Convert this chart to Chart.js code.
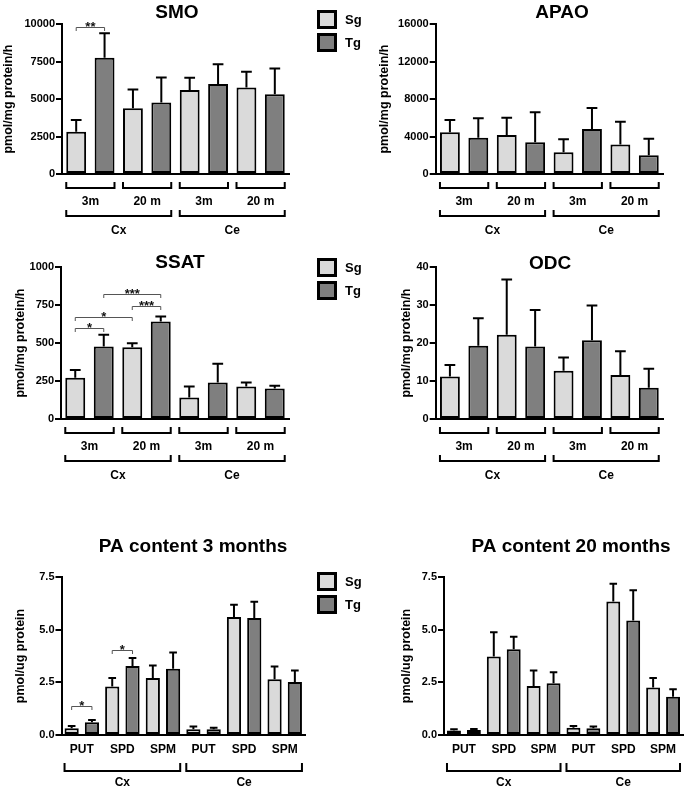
<!DOCTYPE html>
<html><head><meta charset="utf-8">
<script src="https://cdn.jsdelivr.net/npm/chart.js@4.4.1/dist/chart.umd.min.js"></script>
<style>
html,body{margin:0;padding:0;background:#fff;}
#wrap{position:relative;width:687px;height:793px;overflow:hidden;font-family:"Liberation Sans",Arial,sans-serif;}
#wrap canvas{position:absolute;left:0;top:0;}
.lg{position:absolute;left:317px;font-weight:bold;font-size:13px;color:#000;}
.lg .row{position:relative;height:23px;}
.lg .box{position:absolute;left:0;top:0;width:14px;height:13px;border:3px solid #000;}
.lg .txt{position:absolute;left:28px;top:0;line-height:19px;}
</style></head>
<body><div id="wrap"></div>
<script>
// ---------------- data ----------------
const regions = ['Cx', 'Ce'];
const ages = ['3m', '20 m'];
const groups = ['Sg', 'Tg'];
const paCategories = ['PUT', 'SPD', 'SPM'];

// enzyme activities (pmol/mg protein/h); order: Cx 3m, Cx 20 m, Ce 3m, Ce 20 m
const smoSg = [2820, 4380, 5600, 5760];
const smoSgErr = [780, 1260, 820, 1060];
const smoTg = [7750, 4760, 6000, 5310];
const smoTgErr = [1630, 1680, 1310, 1730];

const apaoSg = [4450, 4160, 2310, 3160];
const apaoSgErr = [1310, 1850, 1390, 2420];
const apaoTg = [3880, 3380, 4800, 1990];
const apaoTgErr = [2060, 3200, 2240, 1780];

const ssatSg = [272, 472, 141, 213];
const ssatSgErr = [51, 27, 72, 27];
const ssatTg = [477, 642, 240, 200];
const ssatTgErr = [77, 33, 123, 18];

const odcSg = [11.2, 22.2, 12.7, 11.6];
const odcSgErr = [3.0, 14.5, 3.5, 6.2];
const odcTg = [19.3, 19.1, 20.7, 8.2];
const odcTgErr = [7.2, 9.6, 9.2, 5.0];

// PA content (pmol/ug protein); order: Cx PUT, SPD, SPM, Ce PUT, SPD, SPM
const pa3Sg = [0.32, 2.30, 2.70, 0.27, 5.60, 2.65];
const pa3SgErr = [0.11, 0.40, 0.60, 0.13, 0.58, 0.60];
const pa3Tg = [0.60, 3.28, 3.14, 0.27, 5.55, 2.51];
const pa3TgErr = [0.11, 0.37, 0.78, 0.08, 0.78, 0.55];

const pa20Sg = [0.21, 3.73, 2.33, 0.35, 6.34, 2.25];
const pa20SgErr = [0.06, 1.15, 0.73, 0.08, 0.84, 0.45];
const pa20Tg = [0.24, 4.07, 2.46, 0.32, 5.44, 1.82];
const pa20TgErr = [0.05, 0.59, 0.52, 0.08, 1.43, 0.35];

// y tick labels
const smoTicks = [0, 2500, 5000, 7500, 10000];
const apaoTicks = [0, 4000, 8000, 12000, 16000];
const ssatTicks = [0, 250, 500, 750, 1000];
const odcTicks = [0, 10, 20, 30, 40];
const paTicks = [0, 2.5, 5.0, 7.5];

// significance: [bar from, bar to, level (y units), label]
const smoSig = [[0, 1, 9820, '**']];
const ssatSig = [[0, 1, 600, '*'], [0, 2, 673, '*'], [2, 3, 745, '***'], [1, 3, 820, '***']];
const pa3Sig = [[0, 1, 1.39, '*'], [2, 3, 4.04, '*']];

// ---------------- styling / layout ----------------
const FONT = '"Liberation Sans", Arial, sans-serif';
const SG_COLOR = '#dadada', TG_COLOR = '#7f7f7f';
const BAR_PCT = 0.7;
const W = 687, H = 793;

function drawBracket(ctx, l, r, y0, y1) {
  ctx.beginPath();
  ctx.moveTo(l, y0); ctx.lineTo(l, y1); ctx.lineTo(r, y1); ctx.lineTo(r, y0);
  ctx.stroke();
}

function makePlugin(lay, errs, sig, kind) {
  return {
    id: 'panel',
    afterDatasetsDraw(chart) {
      const ctx = chart.ctx, xs = chart.scales.x, ys = chart.scales.y;
      const n = chart.data.labels.length;
      const xc = i => xs.getPixelForValue(i);
      const bw = (xc(1) - xc(0)) * BAR_PCT;
      ctx.save();
      // error bars
      ctx.strokeStyle = '#000'; ctx.lineWidth = 2; ctx.lineCap = 'butt';
      for (let i = 0; i < n; i++) {
        const v = chart.data.datasets[i % 2].data[i];
        if (v == null) continue;
        const yv = ys.getPixelForValue(v), ye = ys.getPixelForValue(v + errs[i]);
        const cx = xc(i), half = bw * 0.27;
        ctx.beginPath();
        ctx.moveTo(cx, yv); ctx.lineTo(cx, ye);
        ctx.moveTo(cx - half, ye); ctx.lineTo(cx + half, ye);
        ctx.stroke();
      }
      // significance brackets
      ctx.strokeStyle = '#555'; ctx.lineWidth = 1; ctx.fillStyle = '#111';
      ctx.font = 'bold 13px ' + FONT; ctx.textAlign = 'center'; ctx.textBaseline = 'alphabetic';
      (sig || []).forEach(s => {
        const y = Math.round(ys.getPixelForValue(s[2])) + 0.5;
        const x1 = xc(s[0]), x2 = xc(s[1]);
        ctx.beginPath();
        ctx.moveTo(x1, y + 3.5); ctx.lineTo(x1, y); ctx.lineTo(x2, y); ctx.lineTo(x2, y + 3.5);
        ctx.stroke();
        ctx.fillText(s[3], (x1 + x2) / 2, y + 3);
      });
      // title
      ctx.fillStyle = '#000';
      ctx.font = 'bold 19px ' + FONT; ctx.textBaseline = 'middle';
      ctx.fillText(lay.title, lay.tx, lay.ty);
      // group brackets and labels
      const bottom = chart.chartArea.bottom;
      ctx.strokeStyle = '#000'; ctx.lineWidth = 2; ctx.lineJoin = 'miter';
      ctx.font = 'bold 12px ' + FONT;
      if (kind === 'enzyme') {
        for (let g = 0; g < 4; g++) {
          const l = xc(2 * g) - bw / 2, r = xc(2 * g + 1) + bw / 2;
          drawBracket(ctx, l, r, bottom + 8, bottom + 14);
          ctx.fillText(ages[g % 2], (l + r) / 2, bottom + 28);
        }
        for (let k = 0; k < 2; k++) {
          const l = xc(4 * k) - bw / 2, r = xc(4 * k + 3) + bw / 2;
          drawBracket(ctx, l, r, bottom + 36, bottom + 42);
          ctx.fillText(regions[k], (l + r) / 2, bottom + 57);
        }
      } else {
        for (let c = 0; c < 6; c++) {
          ctx.fillText(paCategories[c % 3], (xc(2 * c) + xc(2 * c + 1)) / 2, bottom + 15);
        }
        for (let k = 0; k < 2; k++) {
          const l = xc(6 * k) - bw / 2, r = xc(6 * k + 5) + bw / 2;
          drawBracket(ctx, l, r, bottom + 28, bottom + 36);
          ctx.fillText(regions[k], (l + r) / 2, bottom + 48);
        }
      }
      ctx.restore();
    }
  };
}

function makeChart(lay, sg, sgErr, tg, tgErr, ticks, sig, kind, yTitle, fmt) {
  const sgData = [], tgData = [], errs = [], labels = [];
  for (let i = 0; i < sg.length; i++) {
    sgData.push(sg[i], null); tgData.push(null, tg[i]);
    errs.push(sgErr[i], tgErr[i]);
    labels.push(groups[0] + ' ' + i, groups[1] + ' ' + i);
  }
  const cv = document.createElement('canvas');
  cv.width = W; cv.height = H;
  cv.style.width = W + 'px'; cv.style.height = H + 'px';
  document.getElementById('wrap').appendChild(cv);
  const L = lay.ytx - 7.5;
  const tickFont = {family: FONT, size: 11, weight: 'bold'};
  new Chart(cv.getContext('2d'), {
    type: 'bar',
    data: {
      labels,
      datasets: [
        {label: groups[0], data: sgData, backgroundColor: SG_COLOR, borderColor: '#000', borderWidth: 2, borderSkipped: false},
        {label: groups[1], data: tgData, backgroundColor: TG_COLOR, borderColor: '#000', borderWidth: 2, borderSkipped: false}
      ]
    },
    options: {
      responsive: false, animation: false, events: [],
      devicePixelRatio: 1,
      datasets: {bar: {categoryPercentage: 1, barPercentage: BAR_PCT}},
      layout: {padding: {left: L, top: lay.top, right: W - lay.right, bottom: H - lay.bottom}},
      plugins: {legend: {display: false}, tooltip: {enabled: false}, title: {display: false}},
      scales: {
        x: {
          type: 'category', stacked: true, offset: true,
          grid: {display: false}, ticks: {display: false},
          border: {display: true, color: '#000', width: 2},
          afterFit(s) { s.height = 0; }
        },
        y: {
          stacked: false, min: ticks[0], max: ticks[ticks.length - 1],
          afterBuildTicks(s) { s.ticks = ticks.map(v => ({value: v})); },
          afterFit(s) { s.width = lay.axisX - L; },
          grid: {drawOnChartArea: false, drawTicks: true, tickLength: 6, color: '#000', lineWidth: 2},
          border: {display: true, color: '#000', width: 2},
          ticks: {font: tickFont, color: '#000', padding: 1, callback: v => fmt(v)},
          title: {display: true, text: yTitle, color: '#000', font: {family: FONT, size: 12.5, weight: 'bold'}, padding: {top: 0, bottom: 0}}
        }
      }
    },
    plugins: [makePlugin(lay, errs, sig, kind)]
  });
}

const intFmt = v => String(v);
const decFmt = v => Number(v).toFixed(1);

makeChart({title: 'SMO', tx: 177, ty: 13, ytx: 9, axisX: 62, right: 289, top: 24, bottom: 174},
  smoSg, smoSgErr, smoTg, smoTgErr, smoTicks, smoSig, 'enzyme', 'pmol/mg protein/h', intFmt);
makeChart({title: 'APAO', tx: 562, ty: 12.5, ytx: 385, axisX: 435.7, right: 663, top: 24, bottom: 174},
  apaoSg, apaoSgErr, apaoTg, apaoTgErr, apaoTicks, [], 'enzyme', 'pmol/mg protein/h', intFmt);
makeChart({title: 'SSAT', tx: 180, ty: 263, ytx: 21, axisX: 61, right: 289, top: 267, bottom: 419},
  ssatSg, ssatSgErr, ssatTg, ssatTgErr, ssatTicks, ssatSig, 'enzyme', 'pmol/mg protein/h', intFmt);
makeChart({title: 'ODC', tx: 550, ty: 264, ytx: 407, axisX: 435.7, right: 663, top: 267, bottom: 419},
  odcSg, odcSgErr, odcTg, odcTgErr, odcTicks, [], 'enzyme', 'pmol/mg protein/h', intFmt);
makeChart({title: 'PA content 3 months', tx: 193, ty: 546.5, ytx: 21, axisX: 61.5, right: 305, top: 577, bottom: 735},
  pa3Sg, pa3SgErr, pa3Tg, pa3TgErr, paTicks, pa3Sig, 'pa', 'pmol/ug protein', decFmt);
makeChart({title: 'PA content 20 months', tx: 571, ty: 546.5, ytx: 407, axisX: 444, right: 683, top: 577, bottom: 735},
  pa20Sg, pa20SgErr, pa20Tg, pa20TgErr, paTicks, [], 'pa', 'pmol/ug protein', decFmt);

// legends
[10, 257.5, 572].forEach(top => {
  const lg = document.createElement('div');
  lg.className = 'lg'; lg.style.top = top + 'px';
  groups.forEach((g, i) => {
    const row = document.createElement('div'); row.className = 'row';
    const box = document.createElement('span'); box.className = 'box';
    box.style.background = i === 0 ? SG_COLOR : TG_COLOR;
    const txt = document.createElement('span'); txt.className = 'txt'; txt.textContent = g;
    row.appendChild(box); row.appendChild(txt); lg.appendChild(row);
  });
  document.getElementById('wrap').appendChild(lg);
});
</script>
</body></html>
